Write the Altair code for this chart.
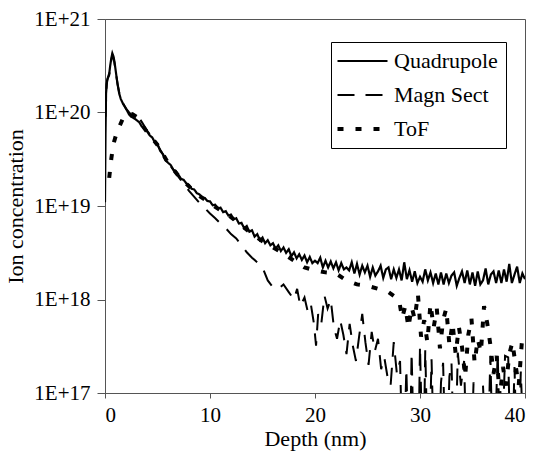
import altair as alt
import pandas as pd

series_names = ["Quadrupole", "Magn Sect", "ToF"]
series_widths = [2.2, 2.0, 4.0]

# ---------------- Quadrupole (solid) ----------------
quad_depth = [
    0.0, 0.05, 0.1, 0.2, 0.3, 0.4, 0.5, 0.6, 0.7, 0.8,
    0.9, 1.0, 1.1, 1.2, 1.35, 1.5, 1.7, 1.9, 2.1, 2.3,
    2.5, 2.75,
    3.0, 3.25, 3.5, 3.75, 4.0, 4.25, 4.5, 4.75, 5.0, 5.25, 5.5, 5.75,
    6.0, 6.25, 6.5, 6.75, 7.0, 7.25, 7.5, 7.75, 8.0, 8.25, 8.5, 8.75,
    9.0, 9.25, 9.5, 9.75, 10.0, 10.25, 10.5, 10.75, 11.0, 11.25, 11.5, 11.75,
    12.0, 12.25, 12.5, 12.75, 13.0, 13.25, 13.5, 13.75, 14.0, 14.25, 14.5, 14.75,
    15.0, 15.25, 15.5, 15.75, 16.0, 16.25, 16.5, 16.75, 17.0, 17.25, 17.5, 17.75,
    18.0, 18.25, 18.5, 18.75, 19.0, 19.25, 19.5, 19.75, 20.0, 20.25, 20.5, 20.75,
    21.0, 21.25, 21.5, 21.75, 22.0, 22.25, 22.5, 22.75, 23.0, 23.25, 23.5, 23.75,
    24.0, 24.25, 24.5, 24.75, 25.0, 25.25, 25.5, 25.75, 26.0, 26.25, 26.5, 26.75,
    27.0, 27.25, 27.5, 27.75, 28.0, 28.25, 28.5, 28.75, 29.0, 29.25, 29.5, 29.75,
    30.0, 30.25, 30.5, 30.75, 31.0, 31.25, 31.5, 31.75, 32.0, 32.25, 32.5, 32.75,
    33.0, 33.25, 33.5, 33.75, 34.0, 34.25, 34.5, 34.75, 35.0, 35.25, 35.5, 35.75,
    36.0, 36.25, 36.5, 36.75, 37.0, 37.25, 37.5, 37.75, 38.0, 38.25, 38.5, 38.75,
    39.0, 39.25, 39.5, 39.75, 40.0,
]
quad_conc = [
    1.1e19, 6.0e19, 1.6e20, 2.2e20, 2.4e20, 2.6e20, 3.2e20, 3.8e20, 4.3e20, 4.0e20,
    3.5e20, 2.9e20, 2.4e20, 2.0e20, 1.6e20, 1.4e20, 1.25e20, 1.15e20, 1.05e20, 9.5e19,
    9.0e19, 8.7e19,
    8.3e19, 7.9e19, 7.1e19, 6.8e19, 6.3e19, 5.7e19, 5.4e19, 4.8e19, 4.6e19, 3.9e19, 3.6e19, 3.1e19,
    2.9e19, 2.75e19, 2.45e19, 2.35e19, 2.15e19, 1.95e19, 1.9e19, 1.74e19, 1.68e19, 1.53e19, 1.5e19, 1.37e19,
    1.33e19, 1.24e19, 1.22e19, 1.13e19, 1.12e19, 1.02e19, 1.03e19, 9.4e18, 9.6e18, 8.6e18, 8.8e18, 7.9e18,
    8.1e18, 7.2e18, 7.4e18, 6.5e18, 6.6e18, 5.8e18, 6.1e18, 5.3e18, 5.5e18, 4.7e18, 5.0e18, 4.3e18,
    4.6e18, 4.0e18, 4.3e18, 3.8e18, 4.0e18, 3.5e18, 3.8e18, 3.3e18, 3.6e18, 3.15e18, 3.45e18, 2.9e18,
    3.2e18, 2.75e18, 3.05e18, 2.65e18, 2.95e18, 2.5e18, 2.85e18, 2.45e18, 2.6e18, 2.45e18, 2.8e18, 2.2e18,
    2.6e18, 2.2e18, 2.55e18, 2.15e18, 2.5e18, 2.05e18, 2.45e18, 2.1e18, 2.2e18, 2.05e18, 2.5e18, 1.9e18,
    2.4e18, 1.85e18, 2.3e18, 1.95e18, 2.3e18, 1.75e18, 2.2e18, 1.8e18, 2.0e18, 2.3e18, 1.7e18, 2.1e18,
    2.2e18, 1.65e18, 2.1e18, 1.7e18, 2.1e18, 1.6e18, 2.5e18, 1.65e18, 2.05e18, 1.55e18, 2.0e18, 1.5e18,
    1.75e18, 1.55e18, 2.1e18, 1.6e18, 1.95e18, 1.5e18, 1.9e18, 1.45e18, 1.95e18, 1.45e18, 1.9e18, 1.5e18,
    1.8e18, 1.95e18, 1.4e18, 1.7e18, 2.0e18, 1.5e18, 2.05e18, 1.45e18, 1.95e18, 1.4e18, 2.0e18, 1.45e18,
    1.6e18, 2.15e18, 1.45e18, 1.85e18, 2.0e18, 1.5e18, 2.05e18, 1.5e18, 2.1e18, 1.55e18, 2.4e18, 1.5e18,
    1.85e18, 2.25e18, 1.5e18, 1.9e18, 1.65e18,
]

# ---------------- Magn Sect (long dashes) ----------------
magn_depth = [
    0.05, 0.15, 0.25, 0.4, 0.5, 0.6, 0.7, 0.8, 0.9, 1.0,
    1.2, 1.4, 1.6, 1.8, 2.0, 2.3, 2.6, 2.9, 3.1, 3.3,
    3.6, 4.0, 4.5, 5.0, 5.5, 6.0, 6.5, 7.0, 7.5, 8.0,
    8.5, 9.0, 9.5, 10.0, 10.5, 11.0, 11.5, 12.0, 12.5, 13.0,
    13.5, 14.0, 14.5, 15.0, 15.5, 16.0, 16.5, 17.0, 17.5, 18.0,
    18.3, 18.6, 19.0, 19.3, 19.6, 19.9, 20.1, 20.3, 20.6, 20.9,
    21.2, 21.5, 21.8, 22.1, 22.4, 22.7, 23.0, 23.3, 23.6, 23.9,
    24.2, 24.5, 24.8, 25.1, 25.4, 25.7, 26.0, 26.3, 26.6, 26.9,
    27.2, 27.5, 27.8, 28.1, 28.4, 28.7, 29.0, 29.2, 29.5, 29.8,
    30.0, 30.3, 30.5, 30.8, 31.1, 31.4, 31.7, 32.0, 32.2, 32.5,
    32.8, 33.0, 33.3, 33.6, 33.9, 34.2, 34.5, 34.8, 35.1, 35.4,
    35.7, 36.0, 36.4, 36.7, 37.0, 37.4, 37.7, 38.1, 38.4, 38.7,
    39.0, 39.3, 39.6, 40.0,
]
magn_conc = [
    9.0e19, 2.0e20, 2.3e20, 2.5e20, 3.0e20, 3.6e20, 4.1e20, 3.9e20, 3.4e20, 2.8e20,
    2.0e20, 1.55e20, 1.35e20, 1.2e20, 1.1e20, 1.0e20, 9.2e19, 9.5e19, 9.7e19, 8.6e19,
    7.6e19, 6.4e19, 5.4e19, 4.5e19, 3.6e19, 2.9e19, 2.45e19, 2.05e19, 1.72e19, 1.45e19,
    1.25e19, 1.08e19, 9.5e18, 8.3e18, 7.4e18, 6.5e18, 5.8e18, 5.0e18, 4.5e18, 3.8e18,
    3.2e18, 2.8e18, 2.5e18, 2.2e18, 1.6e18, 1.35e18, 1.3e18, 1.45e18, 1.2e18, 1.0e18,
    1.3e18, 8.5e17, 1.05e18, 7.5e17, 9.0e17, 5.5e17, 3.2e17, 7.0e17, 5.5e17, 1.1e18,
    8.0e17, 1.0e18, 5.0e17, 3.8e17, 6.0e17, 4.2e17, 2.6e17, 5.5e17, 3.2e17, 2.2e17,
    4.0e17, 7.0e17, 3.5e17, 2.0e17, 4.5e17, 2.8e17, 3.8e17, 1.8e17, 2.4e17, 1.5e17,
    1.2e17, 3.5e17, 1.6e17, 2.2e17, 1.0e16, 1.8e17, 1.0e16, 2.7e17, 1.0e16, 1.0e16,
    3.2e17, 1.0e16, 2.9e17, 1.0e16, 2.3e17, 1.0e16, 1.0e16, 1.3e17, 2.1e17, 1.0e16,
    1.5e17, 2.1e17, 1.0e16, 2.7e17, 1.2e17, 2.2e17, 1.0e16, 1.0e16, 1.3e17, 1.0e16,
    1.0e16, 1.2e17, 1.0e16, 2.5e17, 1.0e16, 2.7e17, 1.0e16, 2.5e17, 2.4e17, 1.0e16,
    1.9e17, 1.0e16, 1.7e17, 1.0e16,
]

# ---------------- ToF (short thick dashes) ----------------
tof_depth = [
    0.4, 0.6, 0.8, 1.1, 1.4, 1.7, 2.0, 2.3, 2.6, 3.0,
    3.5, 4.0, 5.0, 6.0, 7.0, 8.0, 9.0, 10.0, 11.0, 12.0,
    13.0, 14.0, 15.0, 16.0, 17.0, 18.0, 19.0, 20.0, 21.0, 22.0,
    23.0, 24.0, 25.0, 26.0, 27.0, 28.0, 28.3, 28.6, 28.9, 29.2,
    29.5, 29.8, 30.1, 30.4, 30.7, 31.0, 31.3, 31.6, 31.9, 32.2,
    32.5, 32.8, 33.1, 33.4, 33.7, 34.0, 34.3, 34.6, 34.9, 35.2,
    35.5, 35.8, 36.1, 36.4, 36.7, 37.0, 37.3, 37.6, 37.9, 38.2,
    38.5, 38.8, 39.1, 39.4, 39.7, 40.0,
]
tof_conc = [
    2.0e19, 3.2e19, 4.6e19, 6.0e19, 7.2e19, 8.6e19, 9.6e19, 9.8e19, 9.6e19, 9.0e19,
    7.4e19, 6.2e19, 4.5e19, 2.9e19, 2.1e19, 1.62e19, 1.28e19, 1.07e19, 9.0e18, 7.6e18,
    6.2e18, 5.0e18, 4.2e18, 3.6e18, 3.1e18, 2.6e18, 2.2e18, 2.05e18, 1.95e18, 1.9e18,
    1.6e18, 1.45e18, 1.4e18, 1.3e18, 1.2e18, 1.0e18, 6.3e17, 8.5e17, 5.0e17, 8.3e17,
    6.2e17, 1.15e18, 4.0e17, 6.0e17, 3.5e17, 9.0e17, 5.0e17, 8.0e17, 3.0e17, 6.0e17,
    8.0e17, 3.3e17, 5.6e17, 2.6e17, 5.1e17, 3.1e17, 1.5e17, 4.2e17, 6.3e17, 2.1e17,
    3.8e17, 2.7e17, 8.5e17, 5.6e17, 3.3e17, 1.6e17, 2.5e17, 9.0e16, 1.9e17, 1.2e17,
    2.6e17, 3.5e17, 2.0e17, 1.2e17, 3.5e17, 3.3e17,
]

rows = []
for name, width, ds, cs in [
    ("Quadrupole", series_widths[0], quad_depth, quad_conc),
    ("Magn Sect", series_widths[1], magn_depth, magn_conc),
    ("ToF", series_widths[2], tof_depth, tof_conc),
]:
    for i, (d, c) in enumerate(zip(ds, cs)):
        rows.append({"series": name, "depth": d, "conc": c, "order": i, "sw": width})
df = pd.DataFrame(rows)

FONT = "Liberation Serif, DejaVu Serif, Noto Serif, Times New Roman, Times, serif"
AXIS_GRAY = "#555555"

legend = alt.Legend(
    title=None,
    orient="none",
    legendX=226,
    legendY=23,
    direction="vertical",
    symbolType="M-1,0H3",
    symbolSize=625,
    symbolStrokeColor="black",
    symbolStrokeWidth=alt.ExprRef(expr="datum.value === 'ToF' ? 4 : 2"),
    labelFont=FONT,
    labelFontSize=22,
    labelColor="black",
    labelOffset=33,
    strokeColor="black",
    fillColor="white",
    padding=8,
    rowPadding=12,
)

chart = (
    alt.Chart(df)
    .mark_line(clip=True, color="black")
    .encode(
        x=alt.X(
            "depth:Q",
            scale=alt.Scale(domain=[0, 40], nice=False),
            axis=alt.Axis(
                values=[0, 10, 20, 30, 40],
                title="Depth (nm)",
                grid=False,
                tickSize=5,
                labelPadding=6,
                titlePadding=3,
                labelFont=FONT,
                labelFontSize=21,
                labelColor="black",
                titleFont=FONT,
                titleFontSize=22,
                titleFontWeight="normal",
                titleColor="black",
                domainColor=AXIS_GRAY,
                tickColor=AXIS_GRAY,
            ),
        ),
        y=alt.Y(
            "conc:Q",
            scale=alt.Scale(type="log", domain=[1e17, 1e21], nice=False),
            axis=alt.Axis(
                values=[1e17, 1e18, 1e19, 1e20, 1e21],
                labelExpr="'1E+' + format(log(datum.value) / LN10, '.0f')",
                title="Ion concentration",
                grid=False,
                tickSize=8,
                labelPadding=7,
                titlePadding=6,
                labelFont=FONT,
                labelFontSize=21,
                labelColor="black",
                titleFont=FONT,
                titleFontSize=22,
                titleFontWeight="normal",
                titleColor="black",
                domainColor=AXIS_GRAY,
                tickColor=AXIS_GRAY,
            ),
        ),
        strokeDash=alt.StrokeDash(
            "series:N",
            scale=alt.Scale(domain=series_names, range=[[1, 0], [17, 11], [6, 12]]),
            legend=legend,
        ),
        strokeWidth=alt.StrokeWidth("sw:Q", scale=None),
        order=alt.Order("order:Q"),
    )
    .properties(
        width=420,
        height=374,
        padding={"left": 105, "top": 19, "right": 10, "bottom": 59},
        autosize=alt.AutoSizeParams(type="none"),
        background="white",
    )
    .configure_view(stroke=AXIS_GRAY, strokeWidth=1)
)

chart.save("out.html", embed_options={"renderer": "svg", "actions": False})
